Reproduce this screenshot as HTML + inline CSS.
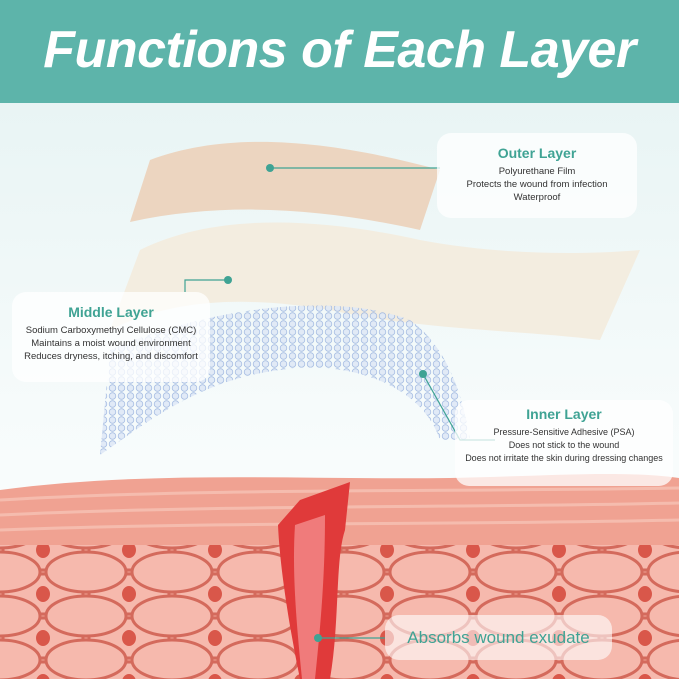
<!DOCTYPE html>
<html><head><meta charset="utf-8"><style>
body{margin:0;width:679px;height:679px;overflow:hidden;font-family:"Liberation Sans",sans-serif;position:relative;background:linear-gradient(#e4f2f2,#f6fbfb 60%,#fff)}
.hdr{position:absolute;left:0;top:0;width:679px;height:103px;background:#5db4aa}
.hdr div{position:absolute;width:100%;top:20px;text-align:center;color:#fff;font-size:52px;font-weight:bold;font-style:italic;letter-spacing:-0.5px}
.box{position:absolute;background:rgba(255,255,255,0.75);border-radius:14px;text-align:center;color:#333;font-size:9.5px;line-height:13px}
.box b{display:block;color:#3fa394;font-size:14px;margin-bottom:5px;font-weight:600}
</style></head><body>
<svg width="679" height="679" style="position:absolute;left:0;top:0">
<defs>
<pattern id="dots" width="9" height="8" patternUnits="userSpaceOnUse"><circle cx="4.5" cy="4" r="3.3" fill="#dfe8f6" stroke="#9fb7e0" stroke-width="0.8"/></pattern>
<pattern id="cells" width="86" height="44" patternUnits="userSpaceOnUse">
<ellipse cx="43" cy="22" rx="40" ry="20" fill="#f6b9ad" stroke="#d46a5c" stroke-width="3"/>
<ellipse cx="0" cy="0" rx="40" ry="20" fill="#f6b9ad" stroke="#d46a5c" stroke-width="3"/>
<ellipse cx="86" cy="0" rx="40" ry="20" fill="#f6b9ad" stroke="#d46a5c" stroke-width="3"/>
<ellipse cx="0" cy="44" rx="40" ry="20" fill="#f6b9ad" stroke="#d46a5c" stroke-width="3"/>
<ellipse cx="86" cy="44" rx="40" ry="20" fill="#f6b9ad" stroke="#d46a5c" stroke-width="3"/>
<ellipse cx="43" cy="22" rx="7" ry="8" fill="#d9574a"/>
</pattern>
</defs>
<path d="M140 250 C220 210 330 220 420 240 C500 255 580 255 640 250 L600 340 C520 330 420 330 330 310 C240 295 170 300 110 330 Z" fill="#f3ede0"/>
<path d="M150 160 C230 130 330 140 440 170 L420 230 C330 210 230 200 130 222 Z" fill="#ecd5c0"/>
<path d="M110 350 C200 310 330 290 410 320 C445 345 462 390 470 440 L440 440 C420 380 340 360 280 370 C200 380 150 420 100 455 Z" fill="url(#dots)" opacity="0.9"/>
<path d="M0 490 C150 470 300 480 450 478 C550 476 620 470 679 478 L679 679 L0 679 Z" fill="#f0a292"/>
<g stroke="#f7c3b5" stroke-width="3" fill="none" opacity="0.8">
<path d="M0 500 C200 488 450 492 679 488"/><path d="M0 515 C200 505 450 508 679 503"/><path d="M0 530 C200 522 450 525 679 520"/>
</g>
<rect x="0" y="545" width="679" height="134" fill="url(#cells)"/>
<path d="M300 500 L350 482 L345 530 C335 560 340 620 330 679 L300 679 C290 630 280 570 278 525 Z" fill="#e03a3a"/>
<path d="M295 525 L325 515 C325 580 320 630 315 679 L302 679 C296 620 292 570 295 525 Z" fill="#f07b7b"/>
<g stroke="#3fa394" stroke-width="1.2" fill="none">
<polyline points="270,168 440,168"/>
<polyline points="228,280 185,280 185,292"/>
<polyline points="423,374 460,440 495,440"/>
<polyline points="318,638 385,638"/>
</g>
<g fill="#3fa394"><circle cx="270" cy="168" r="4"/><circle cx="228" cy="280" r="4"/><circle cx="423" cy="374" r="4"/><circle cx="318" cy="638" r="4"/></g>
</svg>
<div class="hdr"><div>Functions of Each Layer</div></div>
<div class="box" style="left:437px;top:133px;width:200px;height:85px;padding-top:14px;box-sizing:border-box"><b>Outer Layer</b>Polyurethane Film<br>Protects the wound from infection<br>Waterproof</div>
<div class="box" style="left:12px;top:292px;width:198px;height:90px;padding-top:14px;box-sizing:border-box"><b>Middle Layer</b>Sodium Carboxymethyl Cellulose (CMC)<br>Maintains a moist wound environment<br>Reduces dryness, itching, and discomfort</div>
<div class="box" style="left:455px;top:400px;width:218px;height:86px;padding-top:8px;box-sizing:border-box;font-size:9px;white-space:nowrap"><b>Inner Layer</b>Pressure-Sensitive Adhesive (PSA)<br>Does not stick to the wound<br>Does not irritate the skin during dressing changes</div>
<div class="box" style="left:385px;top:615px;width:227px;height:45px;line-height:45px;font-size:17px;color:#3fa394;background:rgba(255,255,255,0.6)">Absorbs wound exudate</div>
</body></html>
